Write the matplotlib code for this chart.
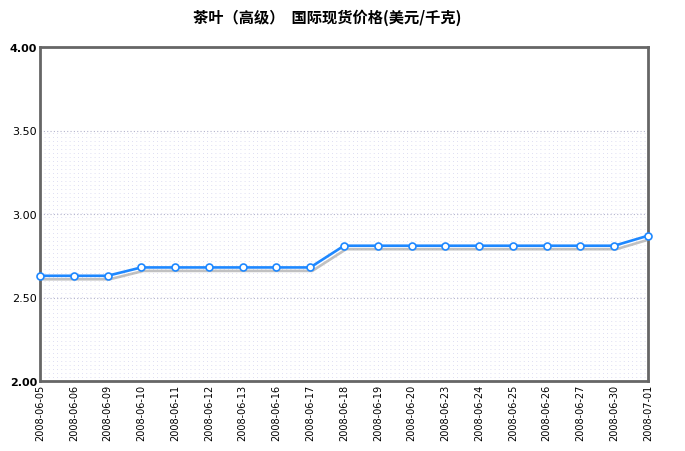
import matplotlib
matplotlib.use("Agg")
import matplotlib.pyplot as plt
import matplotlib.patheffects as pe
import numpy as np

plt.rcParams['font.family'] = ['Noto Sans CJK SC', 'DejaVu Sans']

dates = ['2008-06-05', '2008-06-06', '2008-06-09', '2008-06-10', '2008-06-11',
         '2008-06-12', '2008-06-13', '2008-06-16', '2008-06-17', '2008-06-18',
         '2008-06-19', '2008-06-20', '2008-06-23', '2008-06-24', '2008-06-25',
         '2008-06-26', '2008-06-27', '2008-06-30', '2008-07-01']
prices = [2.63, 2.63, 2.63, 2.68, 2.68, 2.68, 2.68, 2.68, 2.68, 2.81,
          2.81, 2.81, 2.81, 2.81, 2.81, 2.81, 2.81, 2.81, 2.87]
yticks = [2.00, 2.50, 3.00, 3.50, 4.00]
title = '茶叶（高级）  国际现货价格(美元/千克)'

fig = plt.figure(figsize=(6.85, 4.52), dpi=100)
ax = fig.add_axes([40 / 685, 1 - 382 / 452, 608 / 685, 334 / 452])

x = np.arange(len(dates))
ax.set_xlim(0, len(dates) - 1)
ax.set_ylim(yticks[0], yticks[-1])

# dotted background below 3.50
for yy in np.arange(2.0, 3.5, 0.024):
    ax.axhline(yy, color='#d4d4ee', lw=0.6, ls=(0, (1, 4)), zorder=0)
for yy in yticks[1:-1]:
    ax.axhline(yy, color='#b4b4cc', lw=0.8, ls=(0, (1, 2)), zorder=0.5)

ax.plot(x, prices, color='#1e88ff', lw=1.9, zorder=3,
        path_effects=[pe.SimpleLineShadow(offset=(1.5, -2.5), shadow_color='#999999', alpha=0.6),
                      pe.Normal()])
ax.plot(x, prices, ls='none', marker='o', ms=5, mfc='white', mec='#1e88ff',
        mew=1.2, zorder=4, clip_on=False)

ax.set_yticks(yticks)
ylabels = ax.set_yticklabels(['%.2f' % v for v in yticks], fontsize=8, family='DejaVu Sans')
ylabels[0].set_fontweight('bold')
ylabels[-1].set_fontweight('bold')
ax.set_xticks(x)
ax.set_xticklabels(dates, rotation=90, fontsize=7, family='DejaVu Sans')
ax.tick_params(length=0, pad=2)

for s in ax.spines.values():
    s.set_color('#666666')
    s.set_linewidth(2)

fig.text(327 / 685, 1 - 18 / 452, title, ha='center', va='center',
         fontsize=11, fontweight='bold')

fig.savefig('out.png', dpi=100)
